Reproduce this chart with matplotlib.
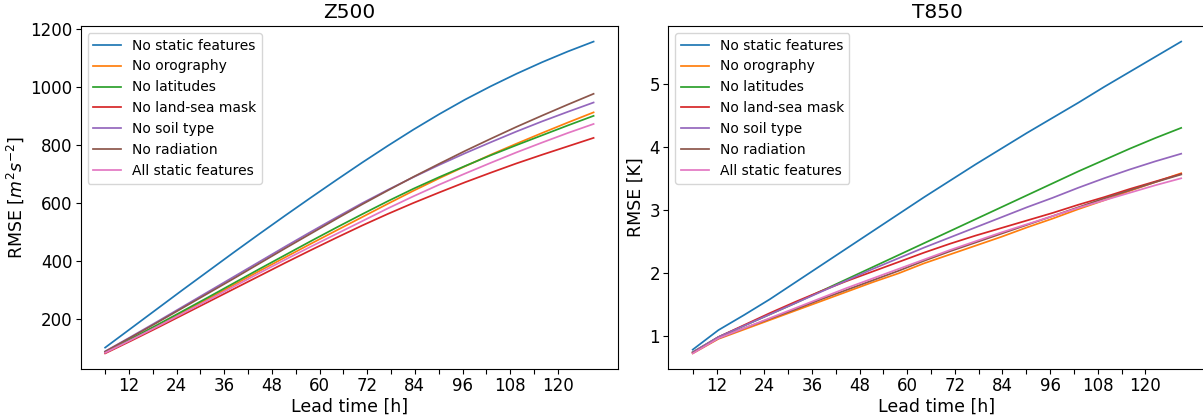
import numpy as np
import matplotlib
matplotlib.use("Agg")
import matplotlib.pyplot as plt

# Forecast steps (hours) at which the RMSE was evaluated
lead_time = np.arange(6, 126, 6)

experiments = [
    "No static features",
    "No orography",
    "No latitudes",
    "No land-sea mask",
    "No soil type",
    "No radiation",
    "All static features",
]

# Z500 RMSE [m^2 s^-2]
z500_no_static = [100, 166, 232, 298, 363, 428, 492, 555, 617, 678, 738, 796, 852, 905, 955, 1001, 1044, 1084, 1121, 1155]
z500_no_orography = [83, 128, 174, 221, 268, 316, 364, 411, 458, 504, 550, 596, 641, 684, 725, 765, 803, 840, 876, 911]
z500_no_latitudes = [84, 130, 177, 225, 273, 322, 371, 419, 467, 514, 560, 605, 648, 688, 726, 763, 798, 832, 866, 899]
z500_no_lsm = [80, 123, 167, 212, 257, 302, 347, 392, 436, 479, 521, 561, 599, 635, 670, 703, 735, 765, 794, 823]
z500_no_soil = [87, 137, 188, 240, 292, 344, 396, 448, 499, 549, 598, 644, 688, 730, 770, 808, 845, 880, 913, 945]
z500_no_radiation = [86, 135, 185, 236, 287, 338, 390, 442, 493, 544, 594, 642, 689, 734, 778, 820, 861, 900, 938, 975]
z500_all_static = [82, 126, 171, 217, 263, 310, 357, 403, 448, 492, 536, 580, 622, 662, 700, 737, 773, 807, 840, 871]

# T850 RMSE [K]
t850_no_static = [0.78, 1.09, 1.33, 1.58, 1.85, 2.12, 2.39, 2.66, 2.93, 3.20, 3.46, 3.72, 3.97, 4.22, 4.46, 4.70, 4.95, 5.19, 5.43, 5.67]
t850_no_orography = [0.72, 0.95, 1.10, 1.25, 1.40, 1.55, 1.70, 1.85, 1.99, 2.15, 2.29, 2.43, 2.57, 2.72, 2.86, 3.01, 3.15, 3.30, 3.44, 3.58]
t850_no_latitudes = [0.74, 0.98, 1.16, 1.34, 1.52, 1.71, 1.90, 2.09, 2.28, 2.47, 2.66, 2.85, 3.04, 3.23, 3.42, 3.61, 3.79, 3.97, 4.14, 4.30]
t850_no_lsm = [0.73, 0.98, 1.17, 1.36, 1.54, 1.71, 1.87, 2.02, 2.17, 2.32, 2.46, 2.59, 2.71, 2.83, 2.95, 3.08, 3.20, 3.33, 3.45, 3.57]
t850_no_soil = [0.74, 0.98, 1.16, 1.34, 1.52, 1.70, 1.88, 2.06, 2.23, 2.40, 2.56, 2.72, 2.88, 3.04, 3.19, 3.35, 3.50, 3.64, 3.77, 3.89]
t850_no_radiation = [0.73, 0.96, 1.12, 1.27, 1.42, 1.58, 1.73, 1.88, 2.03, 2.19, 2.34, 2.48, 2.62, 2.76, 2.90, 3.04, 3.18, 3.31, 3.44, 3.56]
t850_all_static = [0.72, 0.96, 1.12, 1.28, 1.44, 1.60, 1.76, 1.91, 2.06, 2.21, 2.36, 2.50, 2.64, 2.77, 2.90, 3.03, 3.15, 3.27, 3.39, 3.50]

z500 = [z500_no_static, z500_no_orography, z500_no_latitudes, z500_no_lsm,
        z500_no_soil, z500_no_radiation, z500_all_static]
t850 = [t850_no_static, t850_no_orography, t850_no_latitudes, t850_no_lsm,
        t850_no_soil, t850_no_radiation, t850_all_static]

colors = ["#1f77b4", "#ff7f0e", "#2ca02c", "#d62728", "#9467bd", "#8c564b", "#e377c2"]

W, H = 1203, 419
fig = plt.figure(figsize=(W / 100, H / 100), dpi=100)
ax1 = fig.add_axes([80.7 / W, 1 - 369 / H, 537.3 / W, 343 / H])
ax2 = fig.add_axes([668.3 / W, 1 - 369 / H, 537.3 / W, 343 / H])

# tick spacing along the lead-time axis
tick_pos = lead_time[0] + np.arange(len(lead_time)) * (lead_time[-1] - lead_time[0]) / 20.5
tick_lab = [str(h) if h % 12 == 0 else "" for h in lead_time]

panels = [
    (ax1, z500, "Z500", r"RMSE [$m^2s^{-2}$]"),
    (ax2, t850, "T850", "RMSE [K]"),
]
for ax, data, title, ylabel in panels:
    for name, vals, c in zip(experiments, data, colors):
        ax.plot(lead_time, vals, color=c, lw=1.25, label=name)
    ax.set_xticks(tick_pos)
    ax.set_xticklabels(tick_lab)
    ax.tick_params(labelsize=12, pad=2.5)
    ax.set_title(title, fontsize=14.5)
    ax.set_xlabel("Lead time [h]", fontsize=12.5, labelpad=2)
    ax.set_ylabel(ylabel, fontsize=12.5, labelpad=3)
    ax.legend(loc="upper left", fontsize=10, handlelength=2.0)

ax1.set_yticks([200, 400, 600, 800, 1000, 1200])
ax2.set_yticks([1, 2, 3, 4, 5])

fig.savefig("out.png", dpi=100)
